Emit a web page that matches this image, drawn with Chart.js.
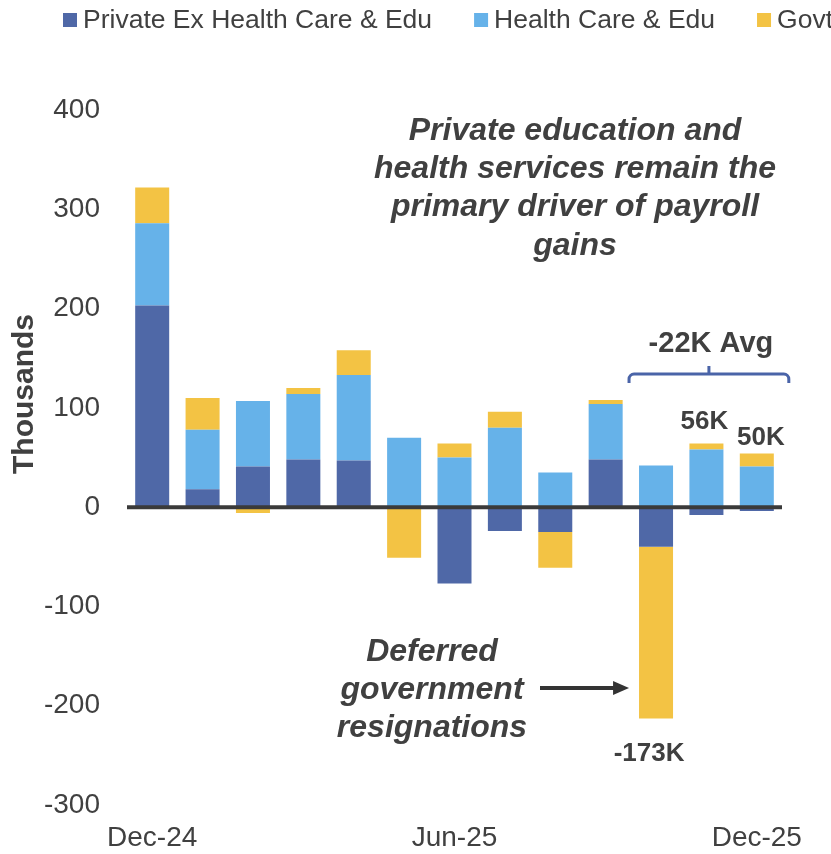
<!DOCTYPE html>
<html>
<head>
<meta charset="utf-8">
<script src="https://cdn.jsdelivr.net/npm/chart.js@4.4.1/dist/chart.umd.min.js"></script>
<style>
  html, body { margin: 0; padding: 0; background: #fff; }
  #wrap { width: 831px; height: 854px; }
</style>
</head>
<body>
<div id="wrap"><canvas id="payrollChart" width="831" height="854"></canvas></div>
<script>
// monthly payroll changes, thousands
const months = ['Dec-24', 'Jan-25', 'Feb-25', 'Mar-25', 'Apr-25', 'May-25', 'Jun-25',
                'Jul-25', 'Aug-25', 'Sep-25', 'Oct-25', 'Nov-25', 'Dec-25'];
const privateExHcEdu = [203, 18, 41, 48, 47, 0, -77, -24, -25, 48, -40, -8, -4];
const healthCareEdu  = [83, 60, 66, 66, 86, 70, 50, 80, 35, 56, 42, 58, 41];
const govt           = [36, 32, -6, 6, 25, -51, 14, 16, -36, 4, -173, 6, 13];
const seriesNames = ['Private Ex Health Care & Edu', 'Health Care & Edu', 'Govt'];
const yMin = -300, yMax = 400, yStep = 100;

const FONT = "'Liberation Sans', Arial, sans-serif";
const TEXT = '#404040';
const colors = ['#4F68A7', '#66B2E9', '#F3C344'];

const totals = months.map((m, i) => privateExHcEdu[i] + healthCareEdu[i] + govt[i]);
const lastThree = totals.slice(-3);
const avgLastThree = Math.round(lastThree.reduce((a, b) => a + b, 0) / lastThree.length);

const extras = {
  id: 'extras',
  afterDatasetsDraw(chart) {
    const { ctx, chartArea, scales } = chart;
    const y0 = scales.y.getPixelForValue(0);
    ctx.save();
    ctx.strokeStyle = '#3a3a3a';
    ctx.lineWidth = 4;
    ctx.beginPath();
    ctx.moveTo(chartArea.left, y0);
    ctx.lineTo(chartArea.right, y0);
    ctx.stroke();
    ctx.restore();
  },
  afterDraw(chart) {
    const { ctx, scales } = chart;
    const x = scales.x, y = scales.y;
    ctx.save();

    // legend
    ctx.font = `26.5px ${FONT}`;
    ctx.textBaseline = 'middle';
    let lx = 63;
    seriesNames.forEach((name, i) => {
      ctx.fillStyle = colors[i];
      ctx.fillRect(lx, 13, 14, 14);
      ctx.fillStyle = TEXT;
      ctx.textAlign = 'left';
      ctx.fillText(name, lx + 20, 21);
      lx += 20 + ctx.measureText(name).width + 42;
    });

    // y axis title
    ctx.save();
    ctx.translate(25, 394);
    ctx.rotate(-Math.PI / 2);
    ctx.font = `bold 30px ${FONT}`;
    ctx.textAlign = 'center';
    ctx.fillStyle = TEXT;
    ctx.fillText('Thousands', 0, 0);
    ctx.restore();

    // commentary
    ctx.fillStyle = TEXT;
    ctx.textAlign = 'center';
    ctx.font = `italic bold 32px ${FONT}`;
    ['Private education and', 'health services remain the', 'primary driver of payroll', 'gains']
      .forEach((t, i) => ctx.fillText(t, 575, 131 + i * 38.3));
    ['Deferred', 'government', 'resignations']
      .forEach((t, i) => ctx.fillText(t, 432, 652 + i * 38));

    // arrow to the October government bar
    const ay = 688;
    const ax1 = x.getPixelForValue(10) - 27;
    ctx.strokeStyle = '#333';
    ctx.fillStyle = '#333';
    ctx.lineWidth = 4;
    ctx.beginPath();
    ctx.moveTo(540, ay);
    ctx.lineTo(ax1 - 14, ay);
    ctx.stroke();
    ctx.beginPath();
    ctx.moveTo(ax1, ay);
    ctx.lineTo(ax1 - 16, ay - 7);
    ctx.lineTo(ax1 - 16, ay + 7);
    ctx.closePath();
    ctx.fill();

    // bracket over the last three months
    const bl = x.getPixelForValue(10) - 27, br = x.getPixelForValue(12) + 32;
    const bm = (bl + br) / 2, by = 374, r = 5;
    ctx.strokeStyle = '#4A64A8';
    ctx.lineWidth = 3;
    ctx.beginPath();
    ctx.moveTo(bl, by + 9);
    ctx.lineTo(bl, by + r);
    ctx.arcTo(bl, by, bl + r, by, r);
    ctx.lineTo(br - r, by);
    ctx.arcTo(br, by, br, by + r, r);
    ctx.lineTo(br, by + 9);
    ctx.moveTo(bm, by);
    ctx.lineTo(bm, by - 8);
    ctx.stroke();

    ctx.fillStyle = TEXT;
    ctx.font = `bold 29px ${FONT}`;
    ctx.fillText(`${avgLastThree}K Avg`, bm + 2, 344);

    // value labels
    ctx.font = `bold 26px ${FONT}`;
    const topOf = i => y.getPixelForValue(
      [privateExHcEdu[i], healthCareEdu[i], govt[i]].filter(v => v > 0).reduce((a, b) => a + b, 0));
    ctx.fillText(`${totals[11]}K`, x.getPixelForValue(11) - 2, topOf(11) - 22);
    ctx.fillText(`${totals[12]}K`, x.getPixelForValue(12) + 4, topOf(12) - 16);
    const octBottom = y.getPixelForValue(privateExHcEdu[10] + govt[10]);
    ctx.fillText(`${govt[10]}K`, x.getPixelForValue(10) - 7, octBottom + 35);

    ctx.restore();
  }
};

new Chart(document.getElementById('payrollChart'), {
  type: 'bar',
  data: {
    labels: months,
    datasets: [privateExHcEdu, healthCareEdu, govt].map((d, i) => ({
      label: seriesNames[i],
      data: d,
      backgroundColor: colors[i],
      borderWidth: 0,
      categoryPercentage: 1,
      barPercentage: 0.675
    }))
  },
  options: {
    responsive: false,
    animation: false,
    layout: { padding: { top: 110, right: 49, left: 0, bottom: 0 } },
    plugins: { legend: { display: false }, tooltip: { enabled: false } },
    scales: {
      x: {
        stacked: true,
        grid: { display: false, drawTicks: false },
        border: { display: false },
        ticks: {
          autoSkip: false, maxRotation: 0, padding: 16, color: TEXT,
          font: { family: FONT, size: 28 },
          callback: (v, i) => (i % 6 === 0 ? months[i] : '')
        },
        afterFit: s => { s.height = 49; }
      },
      y: {
        stacked: true,
        min: yMin, max: yMax,
        grid: { display: false, drawTicks: false },
        border: { display: false },
        ticks: { stepSize: yStep, padding: 27, color: TEXT, font: { family: FONT, size: 28 } },
        afterFit: s => { s.width = 127; }
      }
    }
  },
  plugins: [extras]
});
</script>
</body>
</html>
